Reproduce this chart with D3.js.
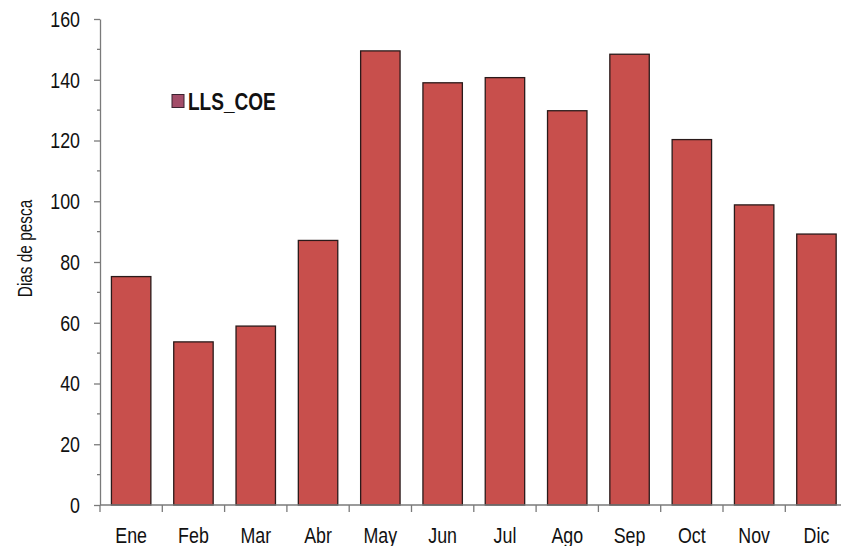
<!DOCTYPE html>
<html>
<head>
<meta charset="utf-8">
<script src="https://cdn.jsdelivr.net/npm/d3@7"></script>
<style>
  html, body { margin: 0; padding: 0; background: #ffffff; }
  svg { display: block; }
  text { font-family: "Liberation Sans", Arial, sans-serif; fill: #111; }
</style>
</head>
<body>
<svg id="chart" width="841" height="546"></svg>
<script>
// Monthly fishing days, series LLS_COE
const months = ["Ene", "Feb", "Mar", "Abr", "May", "Jun", "Jul", "Ago", "Sep", "Oct", "Nov", "Dic"];
const diasPesca = [75.2, 53.7, 58.9, 87.1, 149.5, 139.0, 140.7, 129.8, 148.4, 120.3, 98.8, 89.2];
const yTicks = [0, 20, 40, 60, 80, 100, 120, 140, 160];
const yMinorTicks = [10, 30, 50, 70, 90, 110, 130, 150];
const seriesName = "LLS_COE";
const yTitle = "Dias de pesca";

const svg = d3.select("#chart");

const plot = { left: 100, right: 847.6, top: 19, bottom: 505 };
// horizontal squeeze for a narrow-looking typeface
const narrow = 0.81;

const x = d3.scaleBand()
  .domain(months)
  .range([plot.left, plot.right])
  .paddingInner(0.367)
  .paddingOuter(0.1835);

const y = d3.scaleLinear().domain([0, 160]).range([plot.bottom, plot.top]);

const axisColor = "#7a7a7a";

// Bars
svg.append("g")
  .selectAll("rect")
  .data(months.map((m, i) => ({ m, v: diasPesca[i] })))
  .join("rect")
  .attr("x", d => x(d.m))
  .attr("y", d => y(d.v))
  .attr("width", x.bandwidth())
  .attr("height", d => y(0) - y(d.v))
  .attr("fill", "#c84f4c")
  .attr("stroke", "#2a1a1a")
  .attr("stroke-width", 1.3);

// Y axis with major ticks (labels drawn separately) and minor ticks
const yAxis = svg.append("g").attr("transform", `translate(${plot.left},0)`);
yAxis.call(d3.axisLeft(y).tickValues(yTicks).tickSize(6).tickSizeOuter(0).tickFormat(""));
yAxis.select(".domain").attr("stroke", axisColor).attr("stroke-width", 1.3);
yAxis.selectAll(".tick line").attr("stroke", axisColor).attr("stroke-width", 1.3);

svg.append("g")
  .selectAll("text")
  .data(yTicks)
  .join("text")
  .attr("transform", d => `translate(80,${y(d) + 7.8}) scale(${narrow},1)`)
  .attr("text-anchor", "end")
  .attr("font-size", 22)
  .text(d => d);

svg.append("g")
  .selectAll("line")
  .data(yMinorTicks)
  .join("line")
  .attr("x1", plot.left - 3).attr("x2", plot.left)
  .attr("y1", d => y(d)).attr("y2", d => y(d))
  .attr("stroke", axisColor).attr("stroke-width", 1.3);

// X axis line, boundary ticks and month labels
const step = x.step();
const bounds = d3.range(months.length + 1).map(i => plot.left + i * step);
svg.append("line")
  .attr("x1", plot.left).attr("x2", plot.right)
  .attr("y1", y(0)).attr("y2", y(0))
  .attr("stroke", axisColor).attr("stroke-width", 1.3);
svg.append("g")
  .selectAll("line")
  .data(bounds)
  .join("line")
  .attr("x1", d => d).attr("x2", d => d)
  .attr("y1", y(0)).attr("y2", y(0) + 7)
  .attr("stroke", axisColor).attr("stroke-width", 1.3);
svg.append("g")
  .selectAll("text")
  .data(months)
  .join("text")
  .attr("transform", d => `translate(${x(d) + x.bandwidth() / 2},543) scale(${narrow},1)`)
  .attr("text-anchor", "middle")
  .attr("font-size", 22)
  .text(d => d);

// Y axis title
svg.append("text")
  .attr("transform", `translate(32,248.5) rotate(-90) scale(0.75,1)`)
  .attr("text-anchor", "middle")
  .attr("font-size", 20.5)
  .text(yTitle);

// Legend
const legend = svg.append("g");
legend.append("rect")
  .attr("x", 172).attr("y", 94.5)
  .attr("width", 12).attr("height", 13)
  .attr("fill", "#a34d69")
  .attr("stroke", "#3a2230").attr("stroke-width", 1);
legend.append("text")
  .attr("transform", "translate(188,109.5) scale(0.81,1)")
  .attr("font-size", 23.5)
  .attr("font-weight", "bold")
  .text(seriesName);
</script>
</body>
</html>
